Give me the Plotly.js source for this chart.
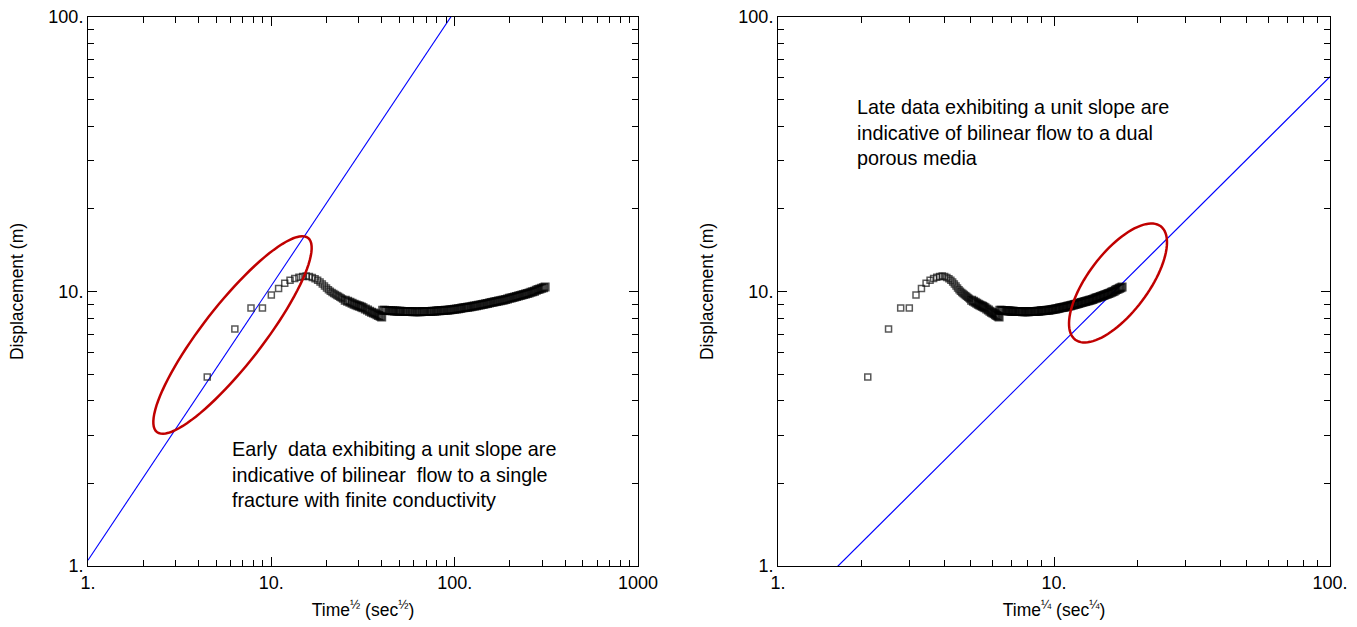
<!DOCTYPE html>
<html>
<head>
<meta charset="utf-8">
<script src="https://cdn.plot.ly/plotly-3.0.1.min.js"></script>
<style>body{margin:0;background:#fff}#chart{width:1357px;height:627px}</style>
</head>
<body>
<div id="chart"></div>
<script>
// Elapsed time (sec) of each reading
const timeSec = [
  20,40,60,80,100,120,140,160,180,200,220,240,260,280,300,320,340,360,380,400,
  420,440,460,480,500,520,540,560,580,600,
  640,680,720,760,800,840,880,920,960,1000,
  1060,1120,1180,1240,1300,1360,1420,1480,1540,1600,
  1640,1720,1800,1900,2000,2100,2200,2300,2400,2500,2600,2750,2900,3050,3200,3350,3500,3700,3900,4100,
  4300,4500,4700,4950,5200,5450,5700,6000,6300,6600,6900,7200,7550,7900,8300,8700,9100,9550,10000,10500,
  11000,11500,12000,12600,13200,13800,14400,15100,15800,16500,17300,18100,19000,19900,20800,21800,22800,23900,25000,26200,
  27400,28700,30000,31400,32900,34400,36000,37700,39500,41300,43200,45200,47300,49500,51800,54200,56700,59300,62000,64900,
  67900,71000,74300,77700,81300,85000,88900,93000,97000
];
// Displacement (m)
const displacement = [
  4.88,7.30,8.71,8.71,9.71,10.25,10.72,11.00,11.15,11.28,11.35,11.38,11.35,11.25,11.12,10.98,10.84,10.66,10.48,10.30,
  10.14,10.02,9.92,9.83,9.75,9.67,9.60,9.53,9.46,9.40,
  9.30,9.21,9.13,9.06,8.99,8.93,8.88,8.83,8.78,8.72,
  8.64,8.56,8.48,8.41,8.35,8.29,8.23,8.17,8.12,8.07,
  8.55,8.54,8.53,8.52,8.51,8.50,8.49,8.49,8.48,8.47,8.47,8.46,8.46,8.45,8.45,8.45,8.44,8.44,8.44,8.44,
  8.44,8.45,8.45,8.45,8.46,8.46,8.47,8.48,8.49,8.50,8.51,8.52,8.53,8.54,8.55,8.57,8.58,8.60,8.62,8.64,
  8.66,8.68,8.70,8.72,8.74,8.76,8.78,8.80,8.83,8.85,8.88,8.91,8.93,8.96,8.99,9.02,9.05,9.08,9.11,9.14,
  9.17,9.20,9.23,9.26,9.29,9.32,9.36,9.40,9.44,9.47,9.51,9.55,9.59,9.63,9.67,9.71,9.75,9.79,9.84,9.88,
  9.93,9.98,10.03,10.10,10.16,10.22,10.28,10.33,10.38
];
// Unit-slope reference lines
const earlyLineX = [1, 1000];
const earlyLineY = [1.05, 1050];
const lateLineX = [1, 100];
const lateLineY = [0.606, 60.6];

// Tick labels
const leftXTicks = [1, 10, 100, 1000];
const leftXTickText = ['1.', '10.', '100.', '1000'];
const rightXTicks = [1, 10, 100];
const rightXTickText = ['1.', '10.', '100.'];
const yTicks = [1, 10, 100];
const yTickText = ['1.', '10.', '100.'];
const minorTicks = [2,3,4,5,6,7,8,9,20,30,40,50,60,70,80,90,200,300,400,500,600,700,800,900];

const noteEarly = ['Early  data exhibiting a unit slope are', 'indicative of bilinear  flow to a single', 'fracture with finite conductivity'];
const noteLate = ['Late data exhibiting a unit slope are', 'indicative of bilinear flow to a dual', 'porous media'];

const sqrtTime = timeSec.map(t => Math.sqrt(t));
const quarterTime = timeSec.map(t => Math.pow(t, 0.25));

const FONT = 'Liberation Sans, Arial, sans-serif';
const W = 1357, H = 627;
const M = {l: 88, r: 27, t: 17, b: 61};
const PW = W - M.l - M.r, PH = H - M.t - M.b;

// Rotated ellipse outline in paper coordinates (highlight annotation)
function ellipsePath(cx, cy, a, b, deg) {
  const th = deg * Math.PI / 180;
  let d = '';
  for (let i = 0; i <= 96; i++) {
    const s = i / 96 * 2 * Math.PI;
    const px = cx + a * Math.cos(s) * Math.cos(th) - b * Math.sin(s) * Math.sin(th);
    const py = cy + a * Math.cos(s) * Math.sin(th) + b * Math.sin(s) * Math.cos(th);
    const fx = (px - M.l) / PW, fy = (H - M.b - py) / PH;
    d += (i === 0 ? 'M' : 'L') + fx.toFixed(5) + ',' + fy.toFixed(5);
  }
  return d + 'Z';
}

// Sparse early readings drawn as open squares; dense later readings merge into a solid band
const dense = timeSec.map(t => t > 600);
const markerStyle = {
  symbol: 'square-open',
  size: dense.map(d => d ? 7 : 6),
  color: dense.map(d => d ? '#000' : '#111'),
  line: {width: dense.map(d => d ? 2 : 1.5), color: dense.map(d => d ? '#000' : '#111')}
};

const traces = [
  {x: earlyLineX, y: earlyLineY, xaxis: 'x', yaxis: 'y', mode: 'lines', line: {color: '#0000ff', width: 1.1}, hoverinfo: 'skip'},
  {x: sqrtTime, y: displacement, xaxis: 'x', yaxis: 'y', mode: 'markers', marker: markerStyle},
  {x: lateLineX, y: lateLineY, xaxis: 'x2', yaxis: 'y2', mode: 'lines', line: {color: '#0000ff', width: 1.2}, hoverinfo: 'skip'},
  {x: quarterTime, y: displacement, xaxis: 'x2', yaxis: 'y2', mode: 'markers', marker: markerStyle}
];

const TICKSIZE = 18, TITLESIZE = 17.5, NOTESIZE = 19.8;
const axisBase = {
  type: 'log', showgrid: false, zeroline: false, showline: true, linecolor: '#000', linewidth: 1,
  mirror: 'ticks', ticks: 'inside', ticklen: 9, tickcolor: '#000', tickwidth: 1,
  tickmode: 'array', tickfont: {family: FONT, size: TICKSIZE, color: '#000'},
  minor: {ticks: 'inside', ticklen: 6, tickcolor: '#000', tickwidth: 1, tickmode: 'array', tickvals: minorTicks, showgrid: false}
};
const leftDomainEnd = (638 - M.l) / PW;
const rightDomainStart = (778 - M.l) / PW;

const layout = {
  width: W, height: H, margin: M, showlegend: false,
  paper_bgcolor: '#fff', plot_bgcolor: '#fff',
  font: {family: FONT, color: '#000'},
  xaxis: Object.assign({}, axisBase, {domain: [0, leftDomainEnd], range: [0, 3], anchor: 'y',
    tickvals: leftXTicks, ticktext: leftXTickText,
    title: {text: 'Time<sup>½</sup> (sec<sup>½</sup>)', font: {family: FONT, size: TITLESIZE}, standoff: 12}}),
  yaxis: Object.assign({}, axisBase, {domain: [0, 1], range: [0, 2], anchor: 'x',
    tickvals: yTicks, ticktext: yTickText,
    title: {text: 'Displacement (m)', font: {family: FONT, size: TITLESIZE}, standoff: 20}}),
  xaxis2: Object.assign({}, axisBase, {domain: [rightDomainStart, 1], range: [0, 2], anchor: 'y2',
    tickvals: rightXTicks, ticktext: rightXTickText,
    title: {text: 'Time<sup>¼</sup> (sec<sup>¼</sup>)', font: {family: FONT, size: TITLESIZE}, standoff: 12}}),
  yaxis2: Object.assign({}, axisBase, {domain: [0, 1], range: [0, 2], anchor: 'x2',
    tickvals: yTicks, ticktext: yTickText,
    title: {text: 'Displacement (m)', font: {family: FONT, size: TITLESIZE}, standoff: 20}}),
  shapes: [
    {type: 'path', xref: 'paper', yref: 'paper', path: ellipsePath(232.5, 335, 123, 30, -52.1), line: {color: '#c00000', width: 2.5}},
    {type: 'path', xref: 'paper', yref: 'paper', path: ellipsePath(1118, 283, 71, 30, -53), line: {color: '#c00000', width: 2.5}}
  ],
  annotations: [
    {xref: 'paper', yref: 'paper', x: (230 - M.l) / PW, y: (H - M.b - 436) / PH, xanchor: 'left', yanchor: 'top', align: 'left',
     showarrow: false, text: noteEarly.join('<br>').replace(/  /g, ' &nbsp;'), font: {family: FONT, size: NOTESIZE, color: '#000'}},
    {xref: 'paper', yref: 'paper', x: (855 - M.l) / PW, y: (H - M.b - 94) / PH, xanchor: 'left', yanchor: 'top', align: 'left',
     showarrow: false, text: noteLate.join('<br>'), font: {family: FONT, size: NOTESIZE, color: '#000'}}
  ]
};

Plotly.newPlot('chart', traces, layout, {displayModeBar: false, staticPlot: true});
</script>
</body>
</html>
